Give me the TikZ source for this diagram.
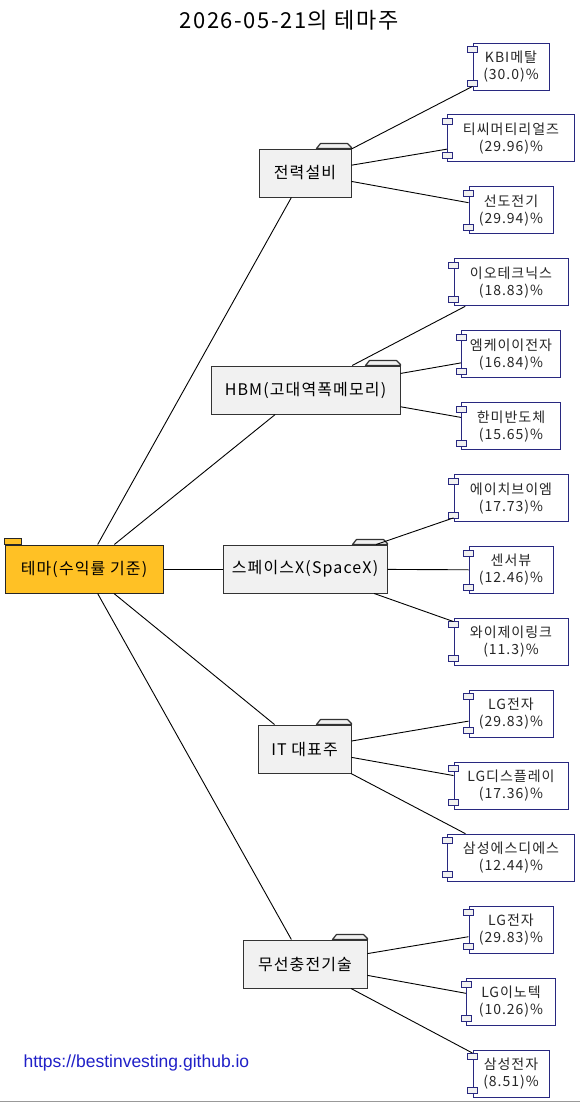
\documentclass[tikz,border=0pt]{standalone}
\usepackage{fontspec}
\setmainfont{Noto Sans CJK KR}[LetterSpace=7]
\newfontfamily\urlfont{Liberation Sans}
\usetikzlibrary{calc}
\definecolor{rootfill}{RGB}{255,193,37}
\definecolor{themefill}{RGB}{241,241,241}
\definecolor{leafborder}{RGB}{40,40,128}
\definecolor{urlblue}{RGB}{32,32,200}
\newcommand\leafnode[6]{%
  \node[leafbox, minimum width=#4] (#1) at (511,#2) {#5\\#6};
  \draw[pinbox] ($(#1.north west)+(-5,4)$) rectangle ++(10,6);
  \draw[pinbox] ($(#1.south west)+(-5,-10)$) rectangle ++(10,6);
  \draw[conn] (#3) -- (#1);
}
\newcommand\foldertab[1]{%
  \filldraw[tabline] ($(#1.north east)+(-35,0)$) -- ++(4,-5) -- ++(27,0) -- ($(#1.north east)+(0,-1)$) -- (#1.north east) -- cycle;
}
\begin{document}
\begin{tikzpicture}[x=1pt,y=-1pt,
  rootbox/.style={draw=black!85, line width=1pt, fill=rootfill, minimum height=48pt, minimum width=158pt, inner sep=0pt, font=\fontsize{16}{19}\selectfont},
  themebox/.style={draw=black!80, line width=1pt, fill=themefill, minimum height=48pt, inner sep=0pt, font=\fontsize{16}{19}\selectfont},
  tabline/.style={draw=black!80, line width=1.2pt, fill=themefill, line join=round},
  leafbox/.style={draw=leafborder, line width=1pt, fill=white, minimum height=47pt, inner sep=0pt, align=center, text=black!85, font=\fontsize{14}{17}\selectfont},
  pinbox/.style={draw=leafborder, line width=0.9pt, fill=themefill},
  conn/.style={draw=black, line width=0.9pt},
  titletext/.style={font=\fontsize{22}{26}\selectfont},
  urltext/.style={font=\urlfont\fontsize{17.5}{20}\selectfont, text=urlblue, anchor=west},
]
\useasboundingbox (0,0) rectangle (580,1103);
\fill[white] (0,0) rectangle (580,1103);
\node[titletext] (title) at (289,20) {2026-05-21의 테마주};

% root
\node[rootbox] (root) at (84,569) {테마(수익률 기준)};
\filldraw[draw=black!85, fill=rootfill] ($(root.north west)+(0,-6)$) rectangle ($(root.north west)+(17,0)$);

% themes
\node[themebox, minimum width=92pt]  (t1) at (305,173) {전력설비};
\node[themebox, minimum width=189pt] (t2) at (305.5,390) {HBM(고대역폭메모리)};
\node[themebox, minimum width=164pt] (t3) at (305,569) {스페이스X(SpaceX)};
\node[themebox, minimum width=93pt]  (t4) at (304.5,749) {IT 대표주};
\node[themebox, minimum width=124pt] (t5) at (305,964) {무선충전기술};
\foreach \t in {t1,t2,t3,t4,t5}{\draw[conn] (root) -- (\t);}
\foreach \t in {t1,t2,t3,t4,t5}{\foldertab{\t}}

% leaves
\leafnode{l1}{66.5}{t1}{76pt}{KBI메탈}{(30.0)\%}
\leafnode{l2}{138.4}{t1}{127pt}{티씨머티리얼즈}{(29.96)\%}
\leafnode{l3}{210.4}{t1}{84pt}{선도전기}{(29.94)\%}
\leafnode{l4}{282.3}{t2}{114pt}{이오테크닉스}{(18.83)\%}
\leafnode{l5}{354.2}{t2}{99pt}{엠케이이전자}{(16.84)\%}
\leafnode{l6}{426.2}{t2}{99pt}{한미반도체}{(15.65)\%}
\leafnode{l7}{498.1}{t3}{114pt}{에이치브이엠}{(17.73)\%}
\leafnode{l8}{570.0}{t3}{84pt}{센서뷰}{(12.46)\%}
\leafnode{l9}{641.9}{t3}{114pt}{와이제이링크}{(11.3)\%}
\leafnode{l10}{713.9}{t4}{84pt}{LG전자}{(29.83)\%}
\leafnode{l11}{785.8}{t4}{114pt}{LG디스플레이}{(17.36)\%}
\leafnode{l12}{857.7}{t4}{127pt}{삼성에스디에스}{(12.44)\%}
\leafnode{l13}{929.6}{t5}{84pt}{LG전자}{(29.83)\%}
\leafnode{l14}{1001.5}{t5}{89pt}{LG이노텍}{(10.26)\%}
\leafnode{l15}{1073.5}{t5}{76pt}{삼성전자}{(8.51)\%}

\node[urltext] (url) at (20,1063) {https://bestinvesting.github.io};
\draw[black!40] (0,1101) -- (580,1101);
\end{tikzpicture}
\end{document}
